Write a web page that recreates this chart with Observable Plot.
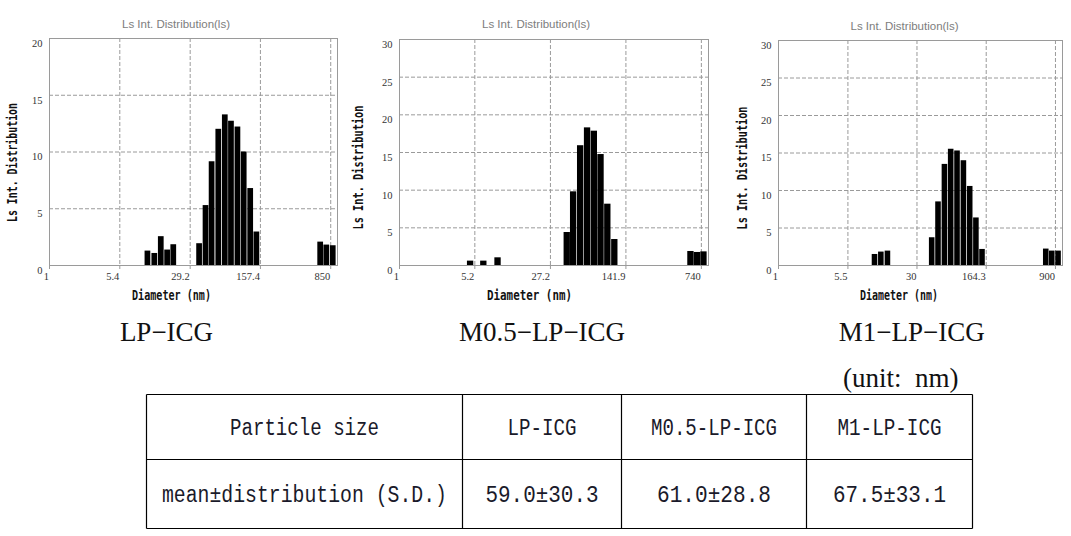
<!DOCTYPE html>
<html>
<head>
<meta charset="utf-8">
<script src="https://cdn.jsdelivr.net/npm/d3@7"></script>
<script src="https://cdn.jsdelivr.net/npm/@observablehq/plot@0.6"></script>
<style>
  html, body { margin: 0; padding: 0; background: #fff; }
  #wrap { position: relative; width: 1071px; height: 536px; overflow: hidden; background: #fff; }
  .panel { position: absolute; top: 0; }
  #overlay { position: absolute; left: 0; top: 0; pointer-events: none; }
</style>
</head>
<body>
<div id="wrap">
  <div class="panel" id="p1" style="left:0px"></div>
  <div class="panel" id="p2" style="left:350px"></div>
  <div class="panel" id="p3" style="left:720px"></div>
  <svg id="overlay" width="1071" height="536"></svg>
</div>
<script>
// ---------- data ----------
const lpDiameter   = [10.6, 12.5, 14.6, 17.0, 19.7, 36.6, 42.7, 49.4, 58.0, 67.8, 78.6, 91.8, 106.7, 124.7, 144.6, 668, 773, 903];
const lpIntensity  = [1.27, 1.06, 2.54, 1.36, 1.83, 1.92, 5.28, 9.14, 12.0, 13.27, 12.71, 12.2, 10.0, 6.78, 2.95, 2.06, 1.8, 1.74];
const lpTicks      = [1, 5.4, 29.2, 157.4, 850];

const m05Diameter  = [4.74, 6.33, 8.64, 39.3, 45.2, 52.7, 61.3, 71.1, 82.3, 95.5, 111.3, 589, 678, 783];
const m05Intensity = [0.58, 0.58, 1.02, 4.38, 9.78, 15.9, 18.27, 17.83, 14.73, 8.14, 3.45, 1.86, 1.73, 1.81];
const m05Ticks     = [1, 5.2, 27.2, 141.9, 740];

const m1Diameter   = [10.7, 12.5, 14.7, 43.6, 50.9, 59.6, 69.5, 81.2, 95.0, 110.9, 129.1, 150, 718, 832, 971];
const m1Intensity  = [1.47, 1.79, 1.92, 3.7, 8.48, 13.48, 15.5, 15.27, 13.97, 10.54, 6.34, 2.14, 2.19, 1.92, 1.92];
const m1Ticks      = [1, 5.5, 30, 164.3, 900];

const yTicks20 = [0, 5, 10, 15, 20];
const yTicks30 = [0, 5, 10, 15, 20, 25, 30];

const sampleNames  = ["LP\u2212ICG", "M0.5\u2212LP\u2212ICG", "M1\u2212LP\u2212ICG"];
const tableHeader  = ["Particle size", "LP-ICG", "M0.5-LP-ICG", "M1-LP-ICG"];
const tableRow     = ["mean\u00b1distribution (S.D.)", "59.0\u00b130.3", "61.0\u00b128.8", "67.5\u00b133.1"];
const unitNote     = "(unit:\u00a0 nm)";
const panelTitle   = "Ls Int. Distribution(ls)";
const yLabel       = "Ls Int. Distribution";
const xLabel       = "Diameter (nm)";

// ---------- panels ----------
const BIN = 1.08; // half bin width factor (log scale)
const GRID = "#9a9a9a";
const TICKFONT = 10.5;

function makePanel({diam, vals, ticks, xmax, yTicks, width, ml, mr, mt}) {
  const data = diam.map((d, i) => ({d, v: vals[i]}));
  const ymax = yTicks[yTicks.length - 1];
  return Plot.plot({
    width, height: 305,
    marginLeft: ml, marginRight: mr, marginTop: mt, marginBottom: 40,
    style: {fontFamily: "'Liberation Serif', serif", fontSize: TICKFONT + "px", background: "transparent", overflow: "visible"},
    x: {type: "log", domain: [1, xmax]},
    y: {domain: [0, ymax]},
    marks: [
      Plot.gridX(ticks, {stroke: GRID, strokeOpacity: 1, strokeDasharray: "4,2"}),
      Plot.gridY(yTicks.filter(t => t > 0 && t < ymax), {stroke: GRID, strokeOpacity: 1, strokeDasharray: "4,2"}),
      Plot.rect(data, {x1: d => d.d / BIN, x2: d => d.d * BIN, y1: 0, y2: "v", fill: "#000", insetLeft: 0.35, insetRight: 0.35}),
      Plot.frame({stroke: GRID}),
      Plot.axisX(ticks, {tickSize: 4, stroke: GRID, label: null, tickFormat: () => ""}),
      Plot.text(ticks, {x: d => d, frameAnchor: "bottom", dy: 14.5, dx: -0.5, textAnchor: "end", text: d => String(d), fill: "#333", fontSize: TICKFONT}),
      Plot.axisY(yTicks, {tickSize: 0, tickPadding: 7, dy: 5, fill: "#333", label: null, fontSize: TICKFONT})
    ]
  });
}

document.getElementById("p1").append(makePanel({diam: lpDiameter, vals: lpIntensity, ticks: lpTicks, xmax: 1000, yTicks: yTicks20, width: 350, ml: 49, mr: 13, mt: 38}));
document.getElementById("p2").append(makePanel({diam: m05Diameter, vals: m05Intensity, ticks: m05Ticks, xmax: 865, yTicks: yTicks30, width: 365, ml: 49, mr: 7, mt: 39}));
document.getElementById("p3").append(makePanel({diam: m1Diameter, vals: m1Intensity, ticks: m1Ticks, xmax: 1070, yTicks: yTicks30, width: 351, ml: 58, mr: 9, mt: 40}));

// ---------- overlay texts ----------
const ov = d3.select("#overlay");

const panelText = [
  {title: [176, 28], xl: [171.5, 300, 79], yl: [11.5, 162.5, 119], name: 166.5},
  {title: [536, 28], xl: [529.5, 300, 85], yl: [358, 167.5, 124], name: 542},
  {title: [904.5, 30], xl: [899, 300, 78], yl: [742, 168, 123], name: 911.7}
];

panelText.forEach((p, i) => {
  ov.append("text").attr("x", p.title[0]).attr("y", p.title[1])
    .attr("text-anchor", "middle").attr("font-family", "'Liberation Sans', Arial, sans-serif")
    .attr("font-size", 11.5).attr("fill", "#7d7d7d").text(panelTitle);
  ov.append("text").attr("x", p.xl[0]).attr("y", p.xl[1])
    .attr("text-anchor", "middle").attr("font-family", "'DejaVu Sans Mono', monospace")
    .attr("font-weight", "bold").attr("font-size", 14).attr("fill", "#111")
    .attr("textLength", p.xl[2]).attr("lengthAdjust", "spacingAndGlyphs").text(xLabel);
  ov.append("text").attr("transform", `translate(${p.yl[0] + 5},${p.yl[1]}) rotate(-90)`)
    .attr("text-anchor", "middle").attr("font-family", "'DejaVu Sans Mono', monospace")
    .attr("font-weight", "bold").attr("font-size", 14).attr("fill", "#111")
    .attr("textLength", p.yl[2]).attr("lengthAdjust", "spacingAndGlyphs").text(yLabel);
  ov.append("text").attr("x", p.name).attr("y", 341)
    .attr("text-anchor", "middle").attr("font-family", "'Liberation Serif', 'Times New Roman', serif")
    .attr("font-size", 27).attr("fill", "#111").text(sampleNames[i]);
});

ov.append("text").attr("x", 843).attr("y", 387)
  .attr("font-family", "'Liberation Serif', 'Times New Roman', serif")
  .attr("font-size", 27).attr("fill", "#111").text(unitNote);

// ---------- table ----------
const colX = [146.5, 462.5, 621.5, 806.5, 972.5];
const rowY = [394.5, 459.5, 528.5];
const headLen = [149, 69, 126, 104];
const rowLen = [285, 113, 114, 113];
const tg = ov.append("g").attr("stroke", "#000").attr("stroke-width", 1.2);
colX.forEach(x => tg.append("line").attr("x1", x).attr("x2", x).attr("y1", rowY[0]).attr("y2", rowY[2]));
rowY.forEach(y => tg.append("line").attr("x1", colX[0]).attr("x2", colX[4]).attr("y1", y).attr("y2", y));

const cellCenter = i => (colX[i] + colX[i + 1]) / 2;
tableHeader.forEach((t, i) => {
  ov.append("text").attr("x", cellCenter(i)).attr("y", 435)
    .attr("text-anchor", "middle").attr("font-family", "'Liberation Mono', monospace")
    .attr("font-size", 23).attr("fill", "#1a1a2a")
    .attr("textLength", headLen[i]).attr("lengthAdjust", "spacingAndGlyphs").text(t);
});
tableRow.forEach((t, i) => {
  ov.append("text").attr("x", cellCenter(i)).attr("y", 502)
    .attr("text-anchor", "middle").attr("font-family", "'Liberation Mono', monospace")
    .attr("font-size", 23).attr("fill", "#1a1a2a")
    .attr("textLength", rowLen[i]).attr("lengthAdjust", "spacingAndGlyphs").text(t);
});
</script>
</body>
</html>
